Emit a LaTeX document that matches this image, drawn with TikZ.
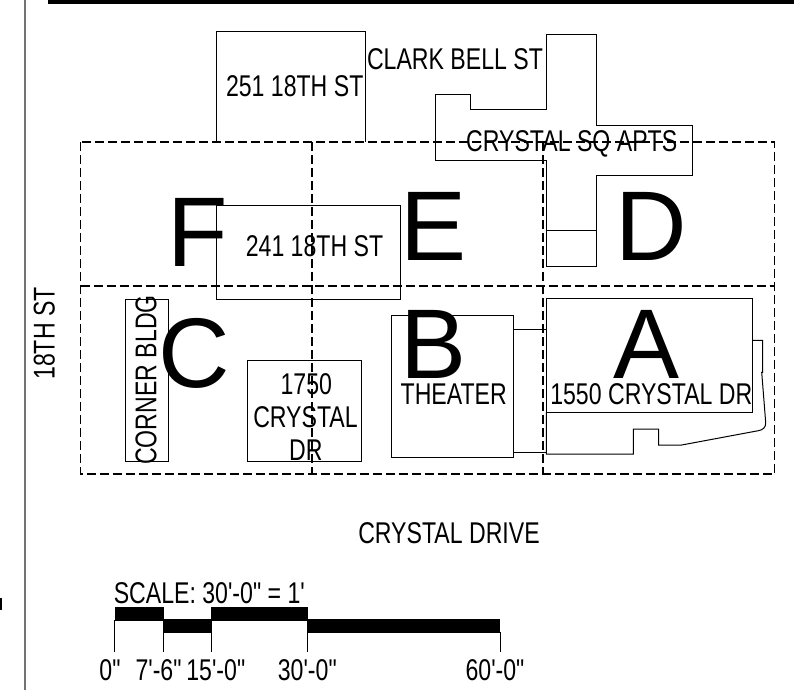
\documentclass[tikz,border=0pt]{standalone}
\usepackage{fontspec}
\setmainfont{Liberation Sans}
\newfontfamily\narrowfont[FakeStretch=0.77]{Liberation Sans}
\tikzset{
  plan/.style={draw=black,line width=1pt,line join=miter},
  grid line/.style={draw=black,line width=1.25pt,dash pattern=on 9pt off 4pt},
  lbl/.style={inner sep=0pt,outer sep=0pt,anchor=base,font=\narrowfont\fontsize{30}{33}\selectfont},
  lblw/.style={lbl,anchor=base west},
  big/.style={inner sep=0pt,outer sep=0pt,anchor=base,font=\fontsize{99}{99}\selectfont},
  solidbar/.style={fill=black,draw=none},
  tick/.style={draw=black,line width=1pt}
}
\begin{document}
\begin{tikzpicture}[x=1pt,y=-1pt]
\useasboundingbox (0,0) rectangle (794,690);
% frame
\fill[black] (48,0) rectangle (794,4.2);
\draw[draw=black!55,line width=1.5pt] (25,0) -- (25,690);
\fill[black] (0,597.5) rectangle (2,609.5);
% zone grid
\draw[grid line] (80.7,142) rectangle (774.3,474);
\draw[grid line] (80.7,286) -- (774.3,286);
\draw[grid line] (312,142) -- (312,474);
\draw[grid line] (543,142) -- (543,474);
% buildings
\draw[plan] (216.3,142) -- (216.3,31.7) -- (365.7,31.7) -- (365.7,142);
\draw[plan] (216.3,205.7) rectangle (400,299.7);
\draw[plan] (435.3,95) -- (470.7,95) -- (470.7,110) -- (546.3,110) -- (546.3,34.3) -- (596.3,34.3) -- (596.3,125.3) -- (692.3,125.3) -- (692.3,175.3) -- (596.3,175.3) -- (596.3,266) -- (546.3,266) -- (546.3,160.3) -- (435.3,160.3) -- cycle;
\draw[plan] (546.3,230.7) -- (596.3,230.7);
\draw[plan] (125.7,299.3) rectangle (168.3,461);
\draw[plan] (247.3,360) rectangle (361,461);
\draw[plan] (391.7,315.7) rectangle (513,457);
\draw[plan] (513,329) -- (546.3,329);
\draw[plan] (513,452) -- (546.3,452);
\draw[plan] (546.3,298.7) rectangle (752.7,412.7);
\draw[plan] (546.3,412.7) -- (546.3,454) -- (633.3,454) -- (633.3,429) -- (658.7,429) -- (658.7,445) -- (681.7,445) -- (758.3,430.7) .. controls (763,430) and (766,427) .. (765.7,422.7) -- (761.7,372.3) -- (762.7,372.3) -- (762.7,340.3) -- (752.7,340.3);
% zone letters
\node[big] (zf) at (198,266.7) {F};
\node[big] (ze) at (433.5,260) {E};
\node[big] (zd) at (651,260) {D};
\node[big] (zc) at (194.5,387) {C};
\node[big] (zb) at (433.5,378) {B};
\node[big] (za) at (646.7,378) {A};
% labels
\node[lbl] (t251) at (294.7,96.7) {251 18TH ST};
\node[lbl] (tclark) at (455,70) {CLARK BELL ST};
\node[lbl] (tsq) at (571.7,151.7) {CRYSTAL SQ APTS};
\node[lbl] (t241) at (314.5,256.7) {241 18TH ST};
\node[lbl] (ttheater) at (453.7,404) {THEATER};
\node[lbl] (t1550) at (651.3,404) {1550 CRYSTAL DR};
\node[lbl] (t1750a) at (306.3,394) {1750};
\node[lbl] (t1750b) at (305.5,427) {CRYSTAL};
\node[lbl] (t1750c) at (305.8,460) {DR};
\node[lbl,rotate=90] (tcorner) at (156.3,380) {CORNER BLDG};
\node[lbl,rotate=90] (t18th) at (54.5,333.5) {18TH ST};
\node[lbl] (tdrive) at (449,543) {CRYSTAL DRIVE};
% scale
\node[lblw] (tscale) at (113.8,603.3) {SCALE: 30'-0" = 1'};
\fill[solidbar] (114.7,606.7) rectangle (163.5,620.7);
\fill[solidbar] (162.8,619.3) rectangle (211.7,632.7);
\fill[solidbar] (210.7,606.7) rectangle (308,620.7);
\fill[solidbar] (307,619.3) rectangle (500,632.7);
\draw[tick] (114.8,620) -- (114.8,652);
\draw[tick] (163,632) -- (163,652);
\draw[tick] (211.5,632) -- (211.5,652);
\draw[tick] (307,632) -- (307,652);
\draw[tick] (500,632) -- (500,652);
\node[lbl] (s0) at (110,680.7) {0"};
\node[lbl] (s1) at (158.5,680.7) {7'-6"};
\node[lbl] (s2) at (215.8,680.7) {15'-0"};
\node[lbl] (s3) at (307.3,680.7) {30'-0"};
\node[lbl] (s4) at (495,680.7) {60'-0"};
\end{tikzpicture}
\end{document}
